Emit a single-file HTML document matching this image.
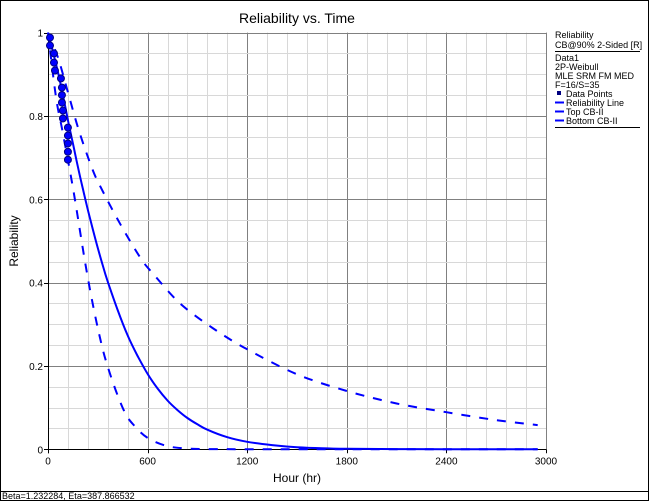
<!DOCTYPE html>
<html><head><meta charset="utf-8"><style>
body{margin:0;background:#fff}
svg{display:block;font-family:"Liberation Sans","DejaVu Sans",sans-serif}
</style></head><body>
<svg id="c" width="650" height="501">
<rect x="0.5" y="0.5" width="648" height="500" fill="#fff" stroke="#000"/>
<line x1="0" y1="491.5" x2="649" y2="491.5" stroke="#000"/>
<text x="2" y="499" font-size="9">Beta=1.232284, Eta=387.866532</text>
<text x="297" y="23" font-size="14" text-anchor="middle">Reliability vs. Time</text>
<text x="297" y="482" font-size="12" text-anchor="middle">Hour (hr)</text>
<text x="18" y="241" font-size="12" text-anchor="middle" transform="rotate(-90 18 241)">Reliability</text>
<g id="grid"></g>
<g id="axes"></g>
<g id="series"></g>
<g font-size="9">
<text x="555" y="38">Reliability</text>
<text x="555" y="48">CB@90% 2-Sided [R]</text>
<line x1="555" y1="51.5" x2="640" y2="51.5" stroke="#000"/>
<text x="555" y="61">Data1</text>
<text x="555" y="70">2P-Weibull</text>
<text x="555" y="79">MLE SRM FM MED</text>
<text x="555" y="88">F=16/S=35</text>
<rect x="557" y="91" width="4" height="4" fill="#000080"/>
<text x="566" y="97">Data Points</text>
<line x1="555" y1="102.5" x2="564" y2="102.5" stroke="#00f" stroke-width="2"/>
<text x="566" y="106">Reliability Line</text>
<line x1="555" y1="111.5" x2="564" y2="111.5" stroke="#00f" stroke-width="2"/>
<text x="566" y="115">Top CB-II</text>
<line x1="555" y1="120.5" x2="564" y2="120.5" stroke="#00f" stroke-width="2"/>
<text x="566" y="124">Bottom CB-II</text>
<line x1="555" y1="127.5" x2="640" y2="127.5" stroke="#000"/>
</g>
</svg>
<script>
const xTicks=[0,600,1200,1800,2400,3000];
const yTicks=[0,0.2,0.4,0.6,0.8,1];
const yTickLabels=["0","0.2","0.4","0.6","0.8","1"];
const relT=[0,30,60,90,120,150,180,210,240,270,300,330,360,420,480,540,600,660,720,780,840,900,960,1080,1200,1350,1500,1650,1800,2100,2400,2950];
const relR=[1,0.954,0.905,0.850,0.790,0.734,0.678,0.625,0.575,0.528,0.483,0.441,0.402,0.334,0.273,0.224,0.181,0.146,0.117,0.094,0.075,0.060,0.047,0.029,0.018,0.010,0.005,0.0026,0.0013,0.0004,0.0001,0];
const topT=[0,60,120,186,264,316,436,556,636,796,996,1200,1500,1800,2100,2400,2700,2950];
const topR=[1,0.94,0.857,0.765,0.676,0.63,0.54,0.46,0.42,0.35,0.29,0.24,0.18,0.14,0.11,0.089,0.07,0.058];
const botT=[0,48,90,156,236,306,366,456,526,606,716,836,1000,1500,2950];
const botR=[1,0.845,0.758,0.614,0.42,0.28,0.19,0.094,0.054,0.026,0.008,0.002,0.0005,0,0];
const ptT=[12,12,36,36,42,78,84,84,84,90,90,120,120,120,120,120];
const ptR=[0.988,0.969,0.95,0.928,0.909,0.89,0.868,0.85,0.832,0.813,0.794,0.772,0.753,0.734,0.714,0.695];
const L=48,R=546,T=32.6,B=449.3;
const X=t=>L+(t/3000)*(R-L), Y=r=>B-r*(B-T);
const NS='http://www.w3.org/2000/svg';
function mk(tag,attrs,parent){const e=document.createElementNS(NS,tag);for(const k in attrs)e.setAttribute(k,attrs[k]);parent.appendChild(e);return e;}
const grid=document.getElementById('grid'),axes=document.getElementById('axes'),ser=document.getElementById('series');
for(let t=0;t<=3000;t+=120){const x=Math.round(X(t))+0.5;const l=mk('line',{x1:x,y1:T,x2:x,y2:B,stroke:(t%600===0)?'#808080':'#d8d8d8'},grid);

}
for(let i=0;i<=20;i++){const r=i*0.05;const y=Math.round(Y(r))+0.5;const l=mk('line',{x1:L,y1:y,x2:R,y2:y,stroke:(i%4===0)?'#808080':'#d8d8d8'},grid);

}
mk('line',{x1:L+0.5,y1:T,x2:L+0.5,y2:B+4,stroke:'#000'},axes);
mk('line',{x1:L-4,y1:Math.round(B)+0.5,x2:R,y2:Math.round(B)+0.5,stroke:'#000'},axes);
xTicks.forEach(t=>{const x=X(t);mk('line',{x1:Math.round(x)+0.5,y1:B,x2:Math.round(x)+0.5,y2:B+4,stroke:'#000'},axes);
const tx=mk('text',{x:x,y:B+15,'font-size':10,'text-anchor':'middle'},axes);tx.textContent=t;

});
yTicks.forEach((r,i)=>{const y=Y(r);mk('line',{x1:L-4,y1:Math.round(y)+0.5,x2:L,y2:Math.round(y)+0.5,stroke:'#000'},axes);
const tx=mk('text',{x:L-5,y:y+4,'font-size':10,'text-anchor':'end'},axes);tx.textContent=yTickLabels[i];

});
function path(ts,rs,dash,name){
const P=ts.map((t,i)=>[X(t),Y(rs[i])]);
let d='M'+P[0][0].toFixed(1)+','+P[0][1].toFixed(1);
for(let i=0;i<P.length-1;i++){const p0=P[i-1]||P[i],p1=P[i],p2=P[i+1],p3=P[i+2]||p2;
const c1=[p1[0]+(p2[0]-p0[0])/6,p1[1]+(p2[1]-p0[1])/6],c2=[p2[0]-(p3[0]-p1[0])/6,p2[1]-(p3[1]-p1[1])/6];
d+='C'+c1.map(v=>v.toFixed(1)).join(',')+' '+c2.map(v=>v.toFixed(1)).join(',')+' '+p2.map(v=>v.toFixed(1)).join(',');}
const p=mk('path',{d:d,fill:'none',stroke:'#0000ff','stroke-width':2},ser);if(dash)p.setAttribute('stroke-dasharray','9,9');

}
path(topT,topR,true,'top-cb-line');
path(botT,botR,true,'bottom-cb-line');
path(relT,relR,false,'reliability-line');
ptT.forEach((t,i)=>{const c=mk('circle',{cx:X(t),cy:Y(ptR[i]),r:3.5,fill:'#0000ff',stroke:'#000080'},ser);

});
</script>
</body></html>
